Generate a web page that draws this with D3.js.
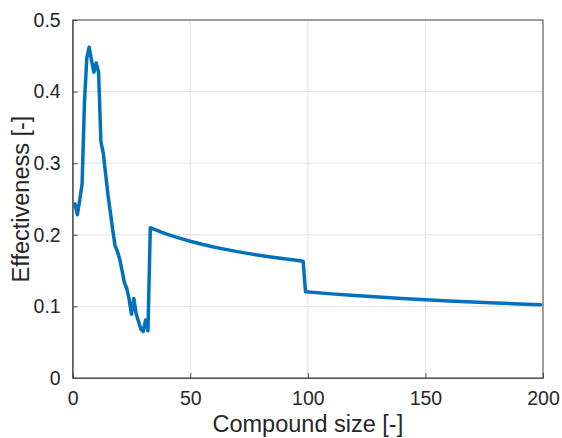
<!DOCTYPE html>
<html>
<head>
<meta charset="utf-8">
<script src="https://cdn.jsdelivr.net/npm/d3@7"></script>
<style>
  html, body { margin: 0; padding: 0; background: #ffffff; }
  svg { display: block; font-family: "Liberation Sans", Arial, Helvetica, sans-serif; }
</style>
</head>
<body>
<svg id="chart" width="562" height="438"></svg>
<script>
// Compound size (x) and effectiveness (y) for the simulated compounds
const compoundSize = [
  1, 2, 3, 4, 5, 6, 7, 8, 9, 10, 11, 12, 13, 14, 15, 16, 17, 18, 19, 20,
  21, 22, 23, 24, 25, 26, 27, 28, 29, 30, 31, 32, 33,
  35, 40, 45, 50, 55, 60, 65, 70, 75, 80, 85, 90, 95, 98,
  99, 110, 120, 130, 140, 150, 160, 170, 180, 190, 199
];
const effectiveness = [
  0.243, 0.228, 0.249, 0.271, 0.385, 0.447, 0.462, 0.444, 0.427, 0.440, 0.427, 0.330, 0.314, 0.285, 0.256, 0.232, 0.207, 0.185, 0.177, 0.166,
  0.150, 0.133, 0.125, 0.110, 0.089, 0.111, 0.089, 0.079, 0.068, 0.065, 0.081, 0.066, 0.210,
  0.2072, 0.2010, 0.1957, 0.1910, 0.1868, 0.1830, 0.1796, 0.1765, 0.1737, 0.1711, 0.1687, 0.1665, 0.1644, 0.1632,
  0.1205, 0.1175, 0.1151, 0.1130, 0.1111, 0.1093, 0.1077, 0.1062, 0.1048, 0.1035, 0.1024
];
const xTicks = [0, 50, 100, 150, 200];
const yTicks = [0, 0.1, 0.2, 0.3, 0.4, 0.5];
const xTitle = "Compound size [-]";
const yTitle = "Effectiveness [-]";

const svg = d3.select("#chart");
const W = 562, H = 438;
const margin = { left: 72.7, right: W - 543, top: 20, bottom: H - 378 };
const x0 = margin.left, x1 = W - margin.right;
const y0 = H - margin.bottom, y1 = margin.top;

const x = d3.scaleLinear().domain([0, 200]).range([x0, x1]);
const y = d3.scaleLinear().domain([0, 0.5]).range([y0, y1]);

const axisColor = "#4d4d4d";
const textColor = "#262626";

// grid
const grid = svg.append("g");
grid.selectAll("line.gx").data(xTicks).join("line")
  .attr("x1", d => x(d)).attr("x2", d => x(d))
  .attr("y1", y1).attr("y2", y0)
  .attr("stroke", "#e3e3e3").attr("stroke-width", 1);
grid.selectAll("line.gy").data(yTicks).join("line")
  .attr("x1", x0).attr("x2", x1)
  .attr("y1", d => y(d)).attr("y2", d => y(d))
  .attr("stroke", "#e3e3e3").attr("stroke-width", 1);

// data line
const pts = compoundSize.map((c, i) => [c, effectiveness[i]]);
svg.append("path")
  .datum(pts)
  .attr("fill", "none")
  .attr("stroke", "#0072BD")
  .attr("stroke-width", 3.5)
  .attr("stroke-linejoin", "round")
  .attr("stroke-linecap", "round")
  .attr("d", d3.line().x(d => x(d[0])).y(d => y(d[1])));

// box
svg.append("rect")
  .attr("x", x0).attr("y", y1)
  .attr("width", x1 - x0).attr("height", y0 - y1)
  .attr("fill", "none").attr("stroke", axisColor).attr("stroke-width", 1);

// axes with inward ticks
const xAxis = d3.axisBottom(x).tickValues(xTicks).tickSizeInner(-5).tickSizeOuter(0).tickPadding(13)
  .tickFormat(d3.format("d"));
const gx = svg.append("g").attr("transform", `translate(0,${y0})`).call(xAxis);
const yAxis = d3.axisLeft(y).tickValues(yTicks).tickSizeInner(-5).tickSizeOuter(0).tickPadding(12)
  .tickFormat(d => d === 0 ? "0" : d3.format(".1f")(d));
const gy = svg.append("g").attr("transform", `translate(${x0},0)`).call(yAxis);

[gx, gy].forEach(g => {
  g.select(".domain").attr("stroke", axisColor);
  g.selectAll(".tick line").attr("stroke", axisColor);
  g.selectAll(".tick text")
    .attr("fill", textColor)
    .style("font-size", "19.5px")
    .style("font-family", "'Liberation Sans', Arial, sans-serif");
});

// axis titles
svg.append("text")
  .attr("x", (x0 + x1) / 2).attr("y", 432)
  .attr("text-anchor", "middle")
  .attr("fill", textColor)
  .style("font-size", "23.5px")
  .text(xTitle);

svg.append("text")
  .attr("transform", `translate(29,${(y0 + y1) / 2}) rotate(-90)`)
  .attr("text-anchor", "middle")
  .attr("fill", textColor)
  .style("font-size", "23.5px")
  .text(yTitle);
</script>
</body>
</html>
